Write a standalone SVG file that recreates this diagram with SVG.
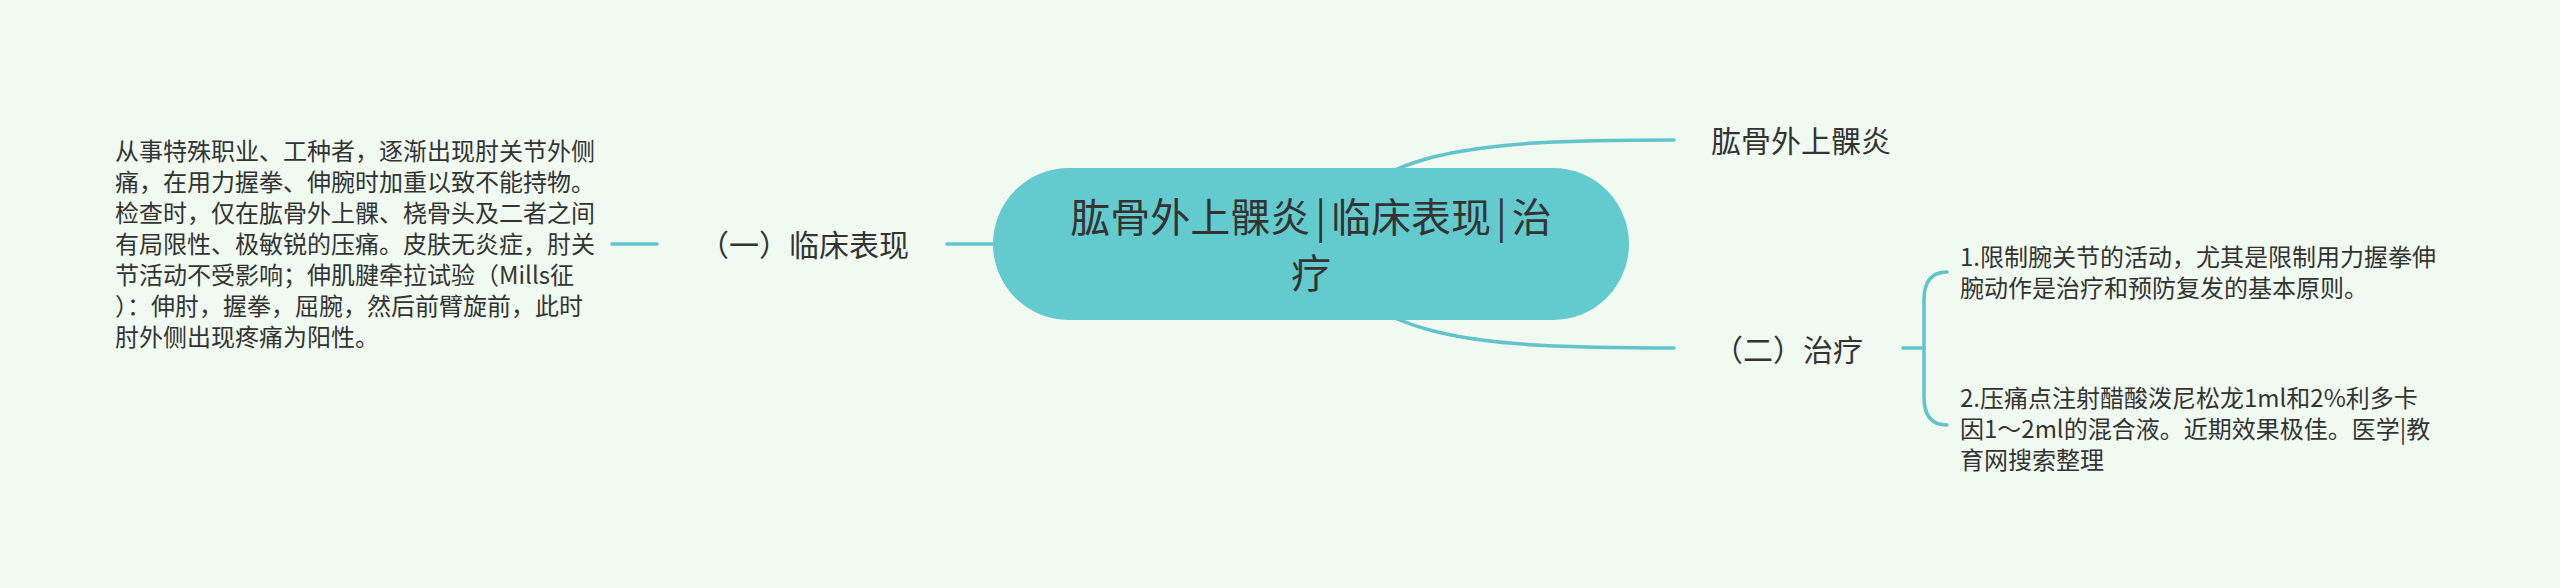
<svg xmlns="http://www.w3.org/2000/svg" width="2560" height="588" viewBox="0 0 2560 588">
<style>
.t{font-family:"Noto Sans CJK SC","Noto Sans",sans-serif;fill:#333333;}
.leaf{font-size:24px;}
.sub{font-size:30px;}
.main{font-size:40px;}
.c{fill:none;stroke:#62C4CA;stroke-width:3.5;stroke-linecap:round;}
</style>
<rect width="2560" height="588" fill="#F0FAF0"/>
<g id="connectors">
<path class="c" d="M1311,244 C1370,150 1460,140 1674,140"/>
<path class="c" d="M1311,244 C1370,338 1460,348 1674,348"/>
<path class="c" d="M947,244 H1311"/>
<path class="c" d="M612,244 H657"/>
<path class="c" d="M1903,348 H1924"/>
<path class="c" d="M1947,272 Q1924,272 1924,300 V397 Q1924,425 1947,425"/>
</g>
<g id="root">
<rect x="993" y="168" width="636" height="152" rx="76" ry="76" fill="#63CACD"/>
<text class="t main" text-anchor="middle"><tspan x="1311" y="232">肱骨外上髁炎<tspan dx="5">|</tspan><tspan dx="5">临床表现</tspan><tspan dx="5">|</tspan><tspan dx="5">治</tspan></tspan><tspan x="1311" y="288">疗</tspan></text>
</g>
<g id="node-top">
<text class="t sub" x="1711" y="152">肱骨外上髁炎</text>
</g>
<g id="node-clinical">
<text class="t sub" x="909" y="256" text-anchor="end">（一）临床表现</text>
</g>
<g id="node-clinical-detail">
<text class="t leaf"><tspan x="115" y="160">从事特殊职业、工种者，逐渐出现肘关节外侧</tspan><tspan x="115" y="191">痛，在用力握拳、伸腕时加重以致不能持物。</tspan><tspan x="115" y="222">检查时，仅在肱骨外上髁、桡骨头及二者之间</tspan><tspan x="115" y="253">有局限性、极敏锐的压痛。皮肤无炎症，肘关</tspan><tspan x="115" y="284">节活动不受影响；伸肌腱牵拉试验（Mills征</tspan><tspan x="115" y="315">）：伸肘，握拳，屈腕，然后前臂旋前，此时</tspan><tspan x="115" y="346">肘外侧出现疼痛为阳性。</tspan></text>
</g>
<g id="node-treatment">
<text class="t sub" x="1713" y="361">（二）治疗</text>
</g>
<g id="node-treatment-1">
<text class="t leaf"><tspan x="1960" y="266">1.限制腕关节的活动，尤其是限制用力握拳伸</tspan><tspan x="1960" y="297">腕动作是治疗和预防复发的基本原则。</tspan></text>
</g>
<g id="node-treatment-2">
<text class="t leaf"><tspan x="1960" y="407">2.压痛点注射醋酸泼尼松龙1ml和2%利多卡</tspan><tspan x="1960" y="438">因1～2ml的混合液。近期效果极佳。医学|教</tspan><tspan x="1960" y="469">育网搜索整理</tspan></text>
</g>
</svg>
